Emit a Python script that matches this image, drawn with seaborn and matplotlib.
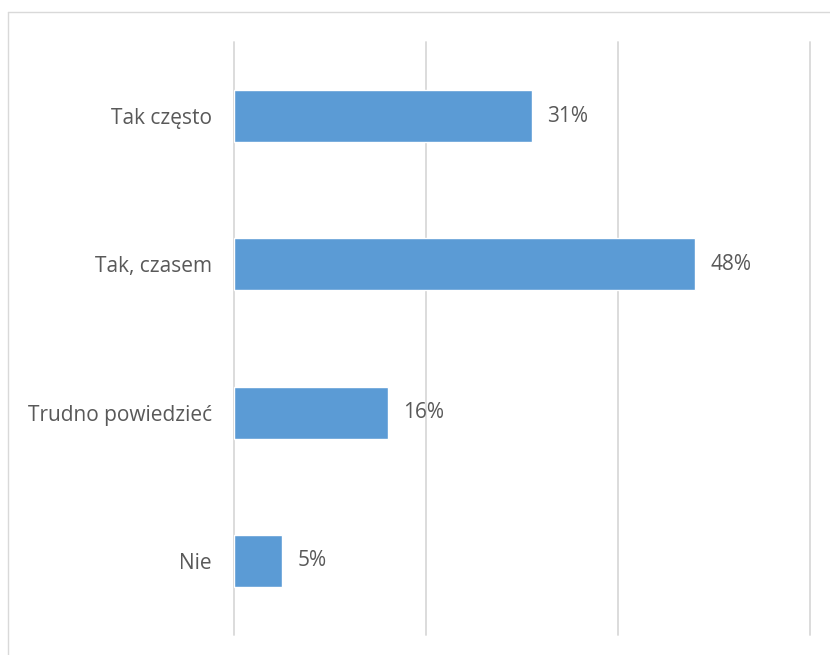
import pandas as pd
import matplotlib.pyplot as plt
import seaborn as sns
from matplotlib.lines import Line2D

# data
categories = ['Tak często', 'Tak, czasem', 'Trudno powiedzieć', 'Nie']
values = [31, 48, 16, 5]
labels = ['31%', '48%', '16%', '5%']

df = pd.DataFrame({'answer': categories, 'share': values})

sns.set_theme(style="white")
plt.rcParams['font.family'] = ['Open Sans', 'DejaVu Sans']

text_color = '#595959'
bar_color = '#5B9BD5'
grid_color = '#D9D9D9'

fig = plt.figure(figsize=(8.3, 6.55), dpi=100)
ax = fig.add_axes([234 / 830, 1 - 635 / 655, 576 / 830, 593 / 655])

sns.barplot(data=df, x='share', y='answer', orient='h', color=bar_color,
            saturation=1, width=0.35, ax=ax)

ax.set_xlim(0, 60)
ax.set_ylim(3.5, -0.5)
ax.set_xticks([0, 20, 40, 60])
ax.xaxis.grid(True, color=grid_color, linewidth=1.3)
for gl in ax.get_xgridlines():
    gl.set_clip_on(False)
ax.yaxis.grid(False)
ax.set_axisbelow(True)
ax.tick_params(axis='x', length=0, labelbottom=False)
ax.tick_params(axis='y', length=0, pad=16, labelsize=15, labelcolor=text_color)
ax.set_xlabel('')
ax.set_ylabel('')
for side in ['top', 'right', 'bottom', 'left']:
    ax.spines[side].set_visible(False)

for i, (v, lab) in enumerate(zip(values, labels)):
    ax.text(v + 1.6, i, lab, va='center', ha='left', fontsize=15, color=text_color)

# outer chart frame (only top and left edges visible)
fig.add_artist(Line2D([8 / 830, 8 / 830], [0, 1 - 12 / 655], transform=fig.transFigure,
                      color=grid_color, linewidth=1))
fig.add_artist(Line2D([8 / 830, 1], [1 - 12 / 655, 1 - 12 / 655], transform=fig.transFigure,
                      color=grid_color, linewidth=1))

fig.savefig('out.png', dpi=100)
